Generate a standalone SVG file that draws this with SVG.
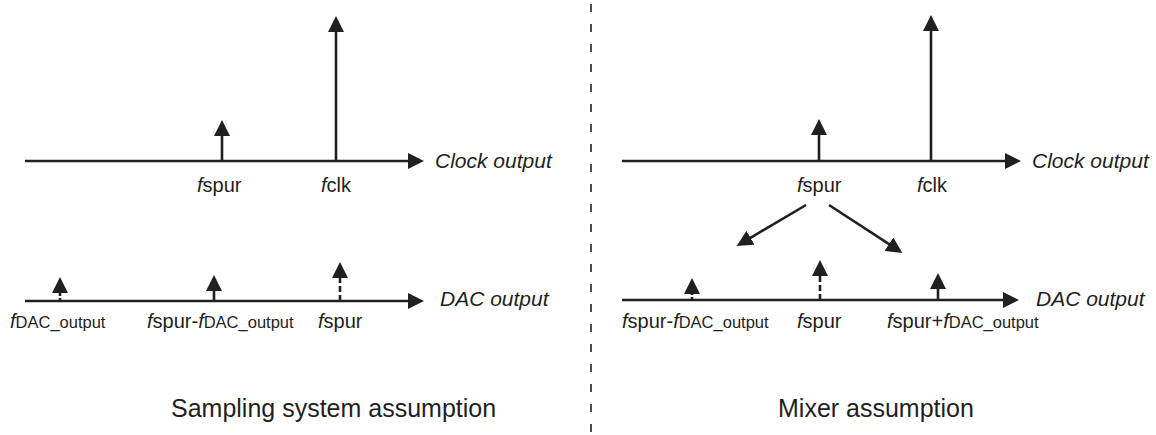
<svg xmlns="http://www.w3.org/2000/svg" width="1156" height="435" viewBox="0 0 1156 435">
<style>
text{font-family:"Liberation Sans",Arial,sans-serif;fill:#231f20;font-size:20px}
.it{font-style:italic}
.ax{font-style:italic;font-size:21px}
.sub{font-size:16.5px}
.cap{font-size:25px}
.ln{stroke:#231f20;stroke-width:2.6;fill:none}
.dsh{stroke-dasharray:6 3}
.div{stroke:#231f20;stroke-width:1.6;stroke-dasharray:8 12;fill:none}
</style>
<defs>
<marker id="ah" viewBox="0 0 16 16" refX="1" refY="8" markerWidth="16" markerHeight="16" markerUnits="userSpaceOnUse" orient="auto">
<path d="M0,0 L16,8 L0,16 z" fill="#231f20"/>
</marker>
</defs>
<rect width="1156" height="435" fill="#fff"/>
<line class="div" x1="591" y1="4" x2="591" y2="435"/>
<g id="connectors">
<line class="ln" x1="25" y1="161" x2="409" y2="161" marker-end="url(#ah)"/>
<line class="ln" x1="222" y1="161" x2="222" y2="135" marker-end="url(#ah)"/>
<line class="ln" x1="336" y1="161" x2="336" y2="31" marker-end="url(#ah)"/>
<line class="ln" x1="25" y1="301" x2="409" y2="301" marker-end="url(#ah)"/>
<line class="ln" x1="60" y1="301" x2="60" y2="292" style="stroke-dasharray:3 2" marker-end="url(#ah)"/>
<line class="ln" x1="214" y1="301" x2="214" y2="290" marker-end="url(#ah)"/>
<line class="ln dsh" x1="340" y1="301" x2="340" y2="277" marker-end="url(#ah)"/>
<line class="ln" x1="622" y1="161" x2="1006" y2="161" marker-end="url(#ah)"/>
<line class="ln" x1="819" y1="161" x2="819" y2="134" marker-end="url(#ah)"/>
<line class="ln" x1="931" y1="161" x2="931" y2="30" marker-end="url(#ah)"/>
<line class="ln" x1="806" y1="205" x2="749.6" y2="238.3" marker-end="url(#ah)"/>
<line class="ln" x1="829" y1="205" x2="889.8" y2="244.7" marker-end="url(#ah)"/>
<line class="ln" x1="622" y1="300" x2="1004" y2="300" marker-end="url(#ah)"/>
<line class="ln" x1="692" y1="300" x2="692" y2="293" style="stroke-dasharray:3 2" marker-end="url(#ah)"/>
<line class="ln dsh" x1="820" y1="300" x2="820" y2="275" marker-end="url(#ah)"/>
<line class="ln" x1="938" y1="300" x2="938" y2="288" marker-end="url(#ah)"/>
</g>
<g id="left-clock">
<text class="ax" x="435" y="168">Clock output</text>
<text x="197" y="192"><tspan class="it">f</tspan>spur</text>
<text x="321" y="192"><tspan class="it">f</tspan>clk</text>
</g>
<g id="left-dac">
<text class="ax" x="440" y="306">DAC output</text>
<text x="10" y="328"><tspan class="it">f</tspan><tspan class="sub">DAC_output</tspan></text>
<text x="147" y="328"><tspan class="it">f</tspan>spur-<tspan class="it">f</tspan><tspan class="sub">DAC_output</tspan></text>
<text x="318" y="328"><tspan class="it">f</tspan>spur</text>
</g>
<g id="right-clock">
<text class="ax" x="1032" y="168">Clock output</text>
<text x="797" y="192"><tspan class="it">f</tspan>spur</text>
<text x="917" y="192"><tspan class="it">f</tspan>clk</text>
</g>
<g id="right-dac">
<text class="ax" x="1036" y="306">DAC output</text>
<text x="622" y="328"><tspan class="it">f</tspan>spur-<tspan class="it">f</tspan><tspan class="sub">DAC_output</tspan></text>
<text x="797" y="328"><tspan class="it">f</tspan>spur</text>
<text x="887" y="328"><tspan class="it">f</tspan>spur+<tspan class="it">f</tspan><tspan class="sub">DAC_output</tspan></text>
</g>
<g id="captions">
<text class="cap" x="171" y="417">Sampling system assumption</text>
<text class="cap" x="778" y="417">Mixer assumption</text>
</g>
</svg>
